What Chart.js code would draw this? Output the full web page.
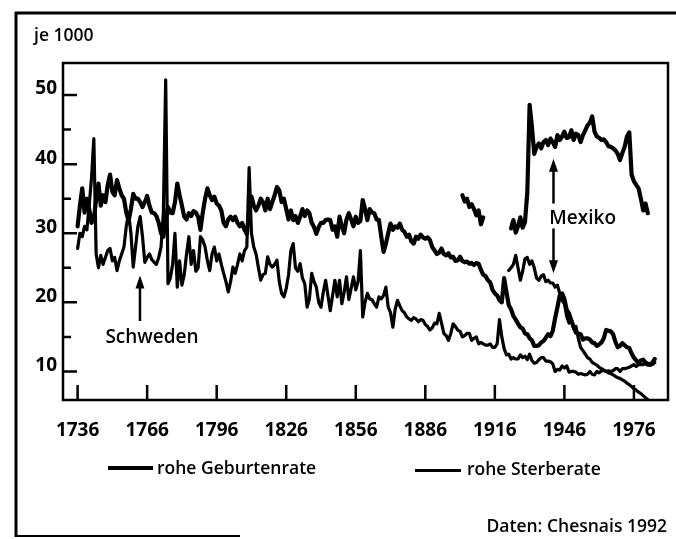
<!DOCTYPE html>
<html>
<head>
<meta charset="utf-8">
<script src="https://cdn.jsdelivr.net/npm/chart.js@4.4.1/dist/chart.umd.min.js"></script>
<style>
  html, body { margin: 0; padding: 0; background: #fff; }
  #wrap { position: relative; width: 676px; height: 539px; overflow: hidden; }
  #wrap canvas { position: absolute; left: 0; top: 0; }
  .txt { position: absolute; font: 600 17.5px 'Open Sans', sans-serif; line-height: 1; color: #000; white-space: nowrap; }
  .key { position: absolute; background: #000; }
</style>
</head>
<body>
<div id="wrap">
  <canvas id="rates" width="676" height="539"></canvas>
  <div class="txt" style="left:34px; top:26px;">je 1000</div>
  <div class="key" style="left:108px; top:466px; width:45px; height:4px;"></div>
  <div class="txt" style="left:157px; top:459px;">rohe Geburtenrate</div>
  <div class="key" style="left:415px; top:469px; width:46px; height:3px;"></div>
  <div class="txt" style="left:467px; top:460px;">rohe Sterberate</div>
  <div class="txt" style="right:9px; top:517px;">Daten: Chesnais 1992</div>
</div>
<script>
// Schweden, jährlich ab 1736 (je 1000 Einwohner)
const swedenStart = 1736;
const swedenBirth = [
  31, 34, 36.5, 33, 35, 33.5, 31.5, 32, 35, 37.2,           // 1736
  34, 35.5, 34.5, 37, 38.5, 36, 35.5, 37.7, 36.5, 35.5,     // 1746
  35, 33, 31.8, 33.5, 35.7, 35, 35, 34.5, 33.8, 34.5,       // 1756
  35.4, 34, 33, 32.9, 32.5, 31.5, 30, 29.5, 32, 33.8,       // 1766
  33, 32.9, 34.5, 37.2, 35.5, 34, 32.4, 32, 32.9, 32.5,     // 1776
  33.2, 33, 32.4, 30.5, 33, 35, 36.5, 35.5, 34.8, 35.3,     // 1786
  34.3, 34, 33.3, 31.5, 31, 32, 32.4, 31.9, 32.4, 31.5,     // 1796
  31, 31.5, 30.5, 29.9, 33, 35.3, 34, 33.3, 34, 35,         // 1806
  34.5, 33.3, 35, 33.5, 34.5, 35.5, 36.7, 36.2, 34.5, 35,   // 1816
  33.5, 32, 33.3, 31.9, 32.5, 31.5, 32.4, 33.5, 32.5, 33.3, // 1826
  32.9, 31.5, 30.9, 29.9, 30.9, 31.5, 31.5, 31.9, 32, 31.9, // 1836
  30.5, 31, 29.5, 32.4, 31, 30, 32, 32.9, 32, 31,           // 1846
  32.4, 31.5, 31.8, 34.8, 33.5, 31.9, 33.5, 33, 32.9, 32,   // 1856
  31.9, 29.5, 27.3, 28.5, 30, 31.4, 30.5, 31, 30.8, 31.4,   // 1866
  30.5, 30.2, 29.5, 29.8, 28.8, 28.5, 29.5, 29.2, 29.8, 29.4, // 1876
  29.2, 29.4, 29, 28, 27.5, 27, 27.2, 27.8, 27, 26.8,       // 1886
  27.1, 26.5, 26.6, 26, 26.1, 26.6, 26, 25.8, 25.9, 25.6,   // 1896
  25.7, 25.4, 25.7, 25.6, 24.7, 24, 23.8, 23.2, 22.9, 21.8, // 1906
  21.3, 21, 20.3, 20, 23.5, 21.5, 19.6, 19, 18, 17.5,       // 1916
  16.9, 16.4, 16.2, 15.5, 15.4, 14.8, 14.5, 13.7, 13.7, 13.8, // 1926
  14.2, 14.4, 14.9, 15.4, 15.1, 15.9, 17.7, 19.3, 21, 21.3, // 1936
  20.5, 18.9, 18.4, 17.4, 16.4, 15.6, 15.5, 15.4, 14.6, 14.8, // 1946
  14.8, 14.6, 14.2, 14.1, 13.7, 13.9, 14.2, 14.8, 16, 15.9, // 1956
  15.8, 15.4, 14.3, 13.5, 13.7, 14.1, 13.8, 13.5, 13.4, 12.6, // 1966
  12, 11.6, 11.2, 11.6, 11.7, 11.3, 11.1, 11, 11.3, 11.8    // 1976
];
const swedenDeath = [
  27.8, 30, 29.5, 31, 30.5, 34, 38, 43.7, 27, 25,           // 1736
  26.8, 25.5, 26.5, 27.5, 27.8, 26, 26.5, 24.6, 26, 27,     // 1746
  28, 31, 32.9, 30, 25.1, 28, 31, 32.4, 29.5, 25.8,         // 1756
  26.5, 27, 26.2, 25.8, 25.5, 26.5, 28, 33, 52.2, 22.7,     // 1766
  23.5, 25.5, 30, 22.2, 26, 22.5, 24, 27, 29.5, 25.5,       // 1776
  27.5, 24.5, 25, 29.5, 29, 28, 26, 24.6, 27, 28,           // 1786
  26, 27, 25.5, 24.2, 23, 21.5, 23, 25.1, 24.2, 25.5,       // 1796
  27, 26, 27.5, 28, 39.5, 30, 28, 27, 25, 23.2,             // 1806
  24, 24.2, 26.6, 25.5, 25.1, 25.5, 26.1, 23, 21.3, 20.8,   // 1816
  22, 24, 27.5, 28.5, 25, 24.5, 25.6, 23.5, 22.7, 19.3,     // 1826
  20.5, 24.2, 23, 22.2, 20, 19.3, 21.5, 23.2, 21, 18.8,     // 1836
  21, 23.2, 20.8, 23.2, 19.8, 21.5, 23.7, 20.4, 22, 23.7,   // 1846
  21.8, 23, 27.5, 17.9, 20, 21.3, 20.5, 20.4, 19.8, 19.3,   // 1856
  20.8, 20.5, 21, 22.2, 19.3, 18.5, 16.4, 19, 20.3, 19.5,   // 1866
  18.8, 18.5, 17.9, 17.6, 17.4, 17.8, 17.6, 17.2, 17.5, 17.4, // 1876
  16.8, 16.5, 16, 16.3, 17, 16.9, 18.4, 17, 15.5, 15.2,     // 1886
  14.5, 15.5, 16.9, 16.5, 16, 15.8, 15, 15.2, 15.5, 15.5,   // 1896
  14.5, 14.8, 15, 14, 14.2, 14, 13.8, 13.8, 14, 13.5,       // 1906
  13.5, 14, 17.5, 15, 13.3, 12.4, 12.5, 11.8, 12, 11.8,     // 1916
  11.8, 12.4, 12, 12.2, 11.7, 12.5, 11.6, 11.2, 11.3, 11.7, // 1926
  12, 12, 11.5, 11.5, 11.4, 11.1, 10, 10.3, 10.2, 10.8,     // 1936
  10.5, 10.8, 9.9, 10, 10, 9.9, 9.6, 9.7, 9.6, 9.5,         // 1946
  9.6, 10, 9.6, 9.5, 10, 9.8, 10.1, 10.1, 10, 10.1,         // 1956
  10, 10.1, 10.4, 10.4, 10, 10.4, 10.4, 10.5, 10.6, 10.8,   // 1966
  11, 10.7, 11, 11, 11, 11.1, 10.9, 10.9, 11, 11.3          // 1976
];

// Mexiko, jährlich (null = keine Daten)
const mexicoBirthStart = 1902;
const mexicoBirth = [
  35.5, 34.6, 35, 33.8, 34.2, 33.5, 32.6, 33.3, 31.3, 32.3, // 1902
  null, null, null, null, null, null, null, null, null, null, null, // 1912-1922
  30.7, 31.9, 30.1, 31, 32.3, 30.8, 31.6, 35.9, 48.6, 45.4, // 1923
  41.5, 42.5, 43, 42.3, 43.2, 43.5, 42.75, 43.7, 43.2, 42.5, // 1933
  44.2, 43.5, 44, 44.7, 43.8, 43.9, 44.9, 43.5, 44.4, 44.2, // 1943
  43.2, 44.2, 44.9, 45.6, 46, 46.9, 44.7, 44, 43.8, 43.5,   // 1953
  43.6, 43.2, 42.6, 42.5, 42.3, 42, 41.5, 40.6, 41.6, 42.5, // 1963
  44, 44.6, 38.5, 37.5, 37, 36.5, 35, 33.3, 34.3, 32.9      // 1973
];
const mexicoDeathStart = 1922;
const mexicoDeath = [
  24.6, 25, 25.5, 26.8, 25, 23.2, 24.5, 26.3, 26.5, 25.5,   // 1922
  26, 25, 23.5, 23.2, 23.8, 24, 23, 23.2, 22.8, 22.8,       // 1932
  22.2, 22.5, 21.3, 20.3, 19.8, 18, 17, 17.5, 16.2, 16.5,   // 1942
  14.8, 13.5, 13, 12.5, 12, 11.8, 11.3, 11.1, 10.9, 10.6,   // 1952
  10.4, 10.2, 10, 9.8, 9.7, 9.5, 9.3, 9.1, 9, 8.8,          // 1962
  8.6, 8.3, 8.1, 7.8, 7.5, 7.3, 7, 6.8, 6.5, 6.2,           // 1972
  5.9, 5.6, 5.3                                             // 1982
];

const xTicks = [1736, 1766, 1796, 1826, 1856, 1886, 1916, 1946, 1976];
const yTicks = [10, 15, 20, 25, 30, 35, 40, 45, 50];

// Pfeile und Beschriftungen im Diagramm (Datenkoordinaten)
const arrows = [
  { x: 1762.9, from: 17.3, to: 23.9 },
  { x: 1941.3, from: 34.3, to: 40.8 },
  { x: 1941.3, from: 30.7, to: 24.2 }
];
const notes = [
  { text: 'Schweden', x: 1768.1, y: 14.1 },
  { text: 'Mexiko', x: 1953.9, y: 31.4 }
];

function toPoints(start, values) {
  return values.map((v, i) => ({ x: start + i, y: v }));
}

const ink = '#000';
const tickFont = { family: "'Open Sans', sans-serif", size: 19, weight: 'bold' };

const framePlugin = {
  id: 'frame',
  beforeDraw(chart) {
    const ctx = chart.ctx;
    ctx.save();
    ctx.strokeStyle = ink;
    ctx.lineWidth = 3;
    ctx.beginPath();
    ctx.moveTo(15, 13); ctx.lineTo(676, 13);
    ctx.moveTo(16, 12); ctx.lineTo(16, 537);
    ctx.stroke();
    ctx.lineWidth = 2;
    ctx.beginPath();
    ctx.moveTo(15, 536); ctx.lineTo(240, 536);
    ctx.stroke();
    ctx.restore();
  },
  afterDraw(chart) {
    const { ctx, chartArea: a, scales: { x, y } } = chart;
    ctx.save();
    ctx.strokeStyle = ink;
    ctx.fillStyle = ink;
    ctx.lineWidth = 2.5;
    ctx.strokeRect(a.left, a.top, a.right - a.left, a.bottom - a.top);

    // Striche nach innen
    ctx.beginPath();
    xTicks.forEach(v => {
      const px = x.getPixelForValue(v);
      ctx.moveTo(px, a.bottom);
      ctx.lineTo(px, a.bottom - 15);
    });
    yTicks.forEach(v => {
      const py = y.getPixelForValue(v);
      ctx.moveTo(a.left, py);
      ctx.lineTo(a.left + (v % 10 === 0 ? 14 : 8), py);
    });
    ctx.stroke();

    arrows.forEach(ar => {
      const px = x.getPixelForValue(ar.x);
      const p1 = y.getPixelForValue(ar.from);
      const p2 = y.getPixelForValue(ar.to);
      const dir = p2 < p1 ? 1 : -1;
      ctx.lineWidth = 2.5;
      ctx.beginPath();
      ctx.moveTo(px, p1);
      ctx.lineTo(px, p2 + dir * 10);
      ctx.stroke();
      ctx.beginPath();
      ctx.moveTo(px, p2);
      ctx.lineTo(px - 4.5, p2 + dir * 13);
      ctx.lineTo(px + 4.5, p2 + dir * 13);
      ctx.closePath();
      ctx.fill();
    });

    ctx.font = "600 19px 'Open Sans', sans-serif";
    ctx.textAlign = 'center';
    ctx.textBaseline = 'alphabetic';
    notes.forEach(n => {
      ctx.fillText(n.text, x.getPixelForValue(n.x), y.getPixelForValue(n.y));
    });
    ctx.restore();
  }
};

new Chart(document.getElementById('rates'), {
  type: 'line',
  data: {
    datasets: [
      { label: 'Schweden rohe Geburtenrate', data: toPoints(swedenStart, swedenBirth), borderWidth: 4.2 },
      { label: 'Schweden rohe Sterberate', data: toPoints(swedenStart, swedenDeath), borderWidth: 3.2 },
      { label: 'Mexiko rohe Geburtenrate', data: toPoints(mexicoBirthStart, mexicoBirth), borderWidth: 4.2 },
      { label: 'Mexiko rohe Sterberate', data: toPoints(mexicoDeathStart, mexicoDeath), borderWidth: 3.2 }
    ]
  },
  options: {
    responsive: false,
    animation: false,
    spanGaps: false,
    elements: {
      point: { radius: 0 },
      line: { borderColor: ink, tension: 0, borderJoinStyle: 'round', borderCapStyle: 'round' }
    },
    layout: { padding: { top: 63, right: 8, left: 0, bottom: 0 } },
    plugins: {
      legend: { display: false },
      tooltip: { enabled: false }
    },
    scales: {
      x: {
        type: 'linear',
        min: 1729.7,
        max: 1990.7,
        grid: { display: false, drawTicks: false },
        border: { display: false },
        afterBuildTicks: axis => { axis.ticks = xTicks.map(v => ({ value: v })); },
        afterFit: axis => { axis.height = 139; },
        ticks: {
          color: ink,
          font: tickFont,
          padding: 19,
          maxRotation: 0,
          autoSkip: false,
          callback: v => String(v)
        }
      },
      y: {
        min: 5.87,
        max: 54.64,
        grid: { display: false, drawTicks: false },
        border: { display: false },
        afterBuildTicks: axis => { axis.ticks = yTicks.map(v => ({ value: v })); },
        afterFit: axis => { axis.width = 63; },
        ticks: {
          color: ink,
          font: tickFont,
          padding: 6,
          labelOffset: -6,
          autoSkip: false,
          callback: v => (v % 10 === 0 ? String(v) : '')
        }
      }
    }
  },
  plugins: [framePlugin]
});
</script>
</body>
</html>
